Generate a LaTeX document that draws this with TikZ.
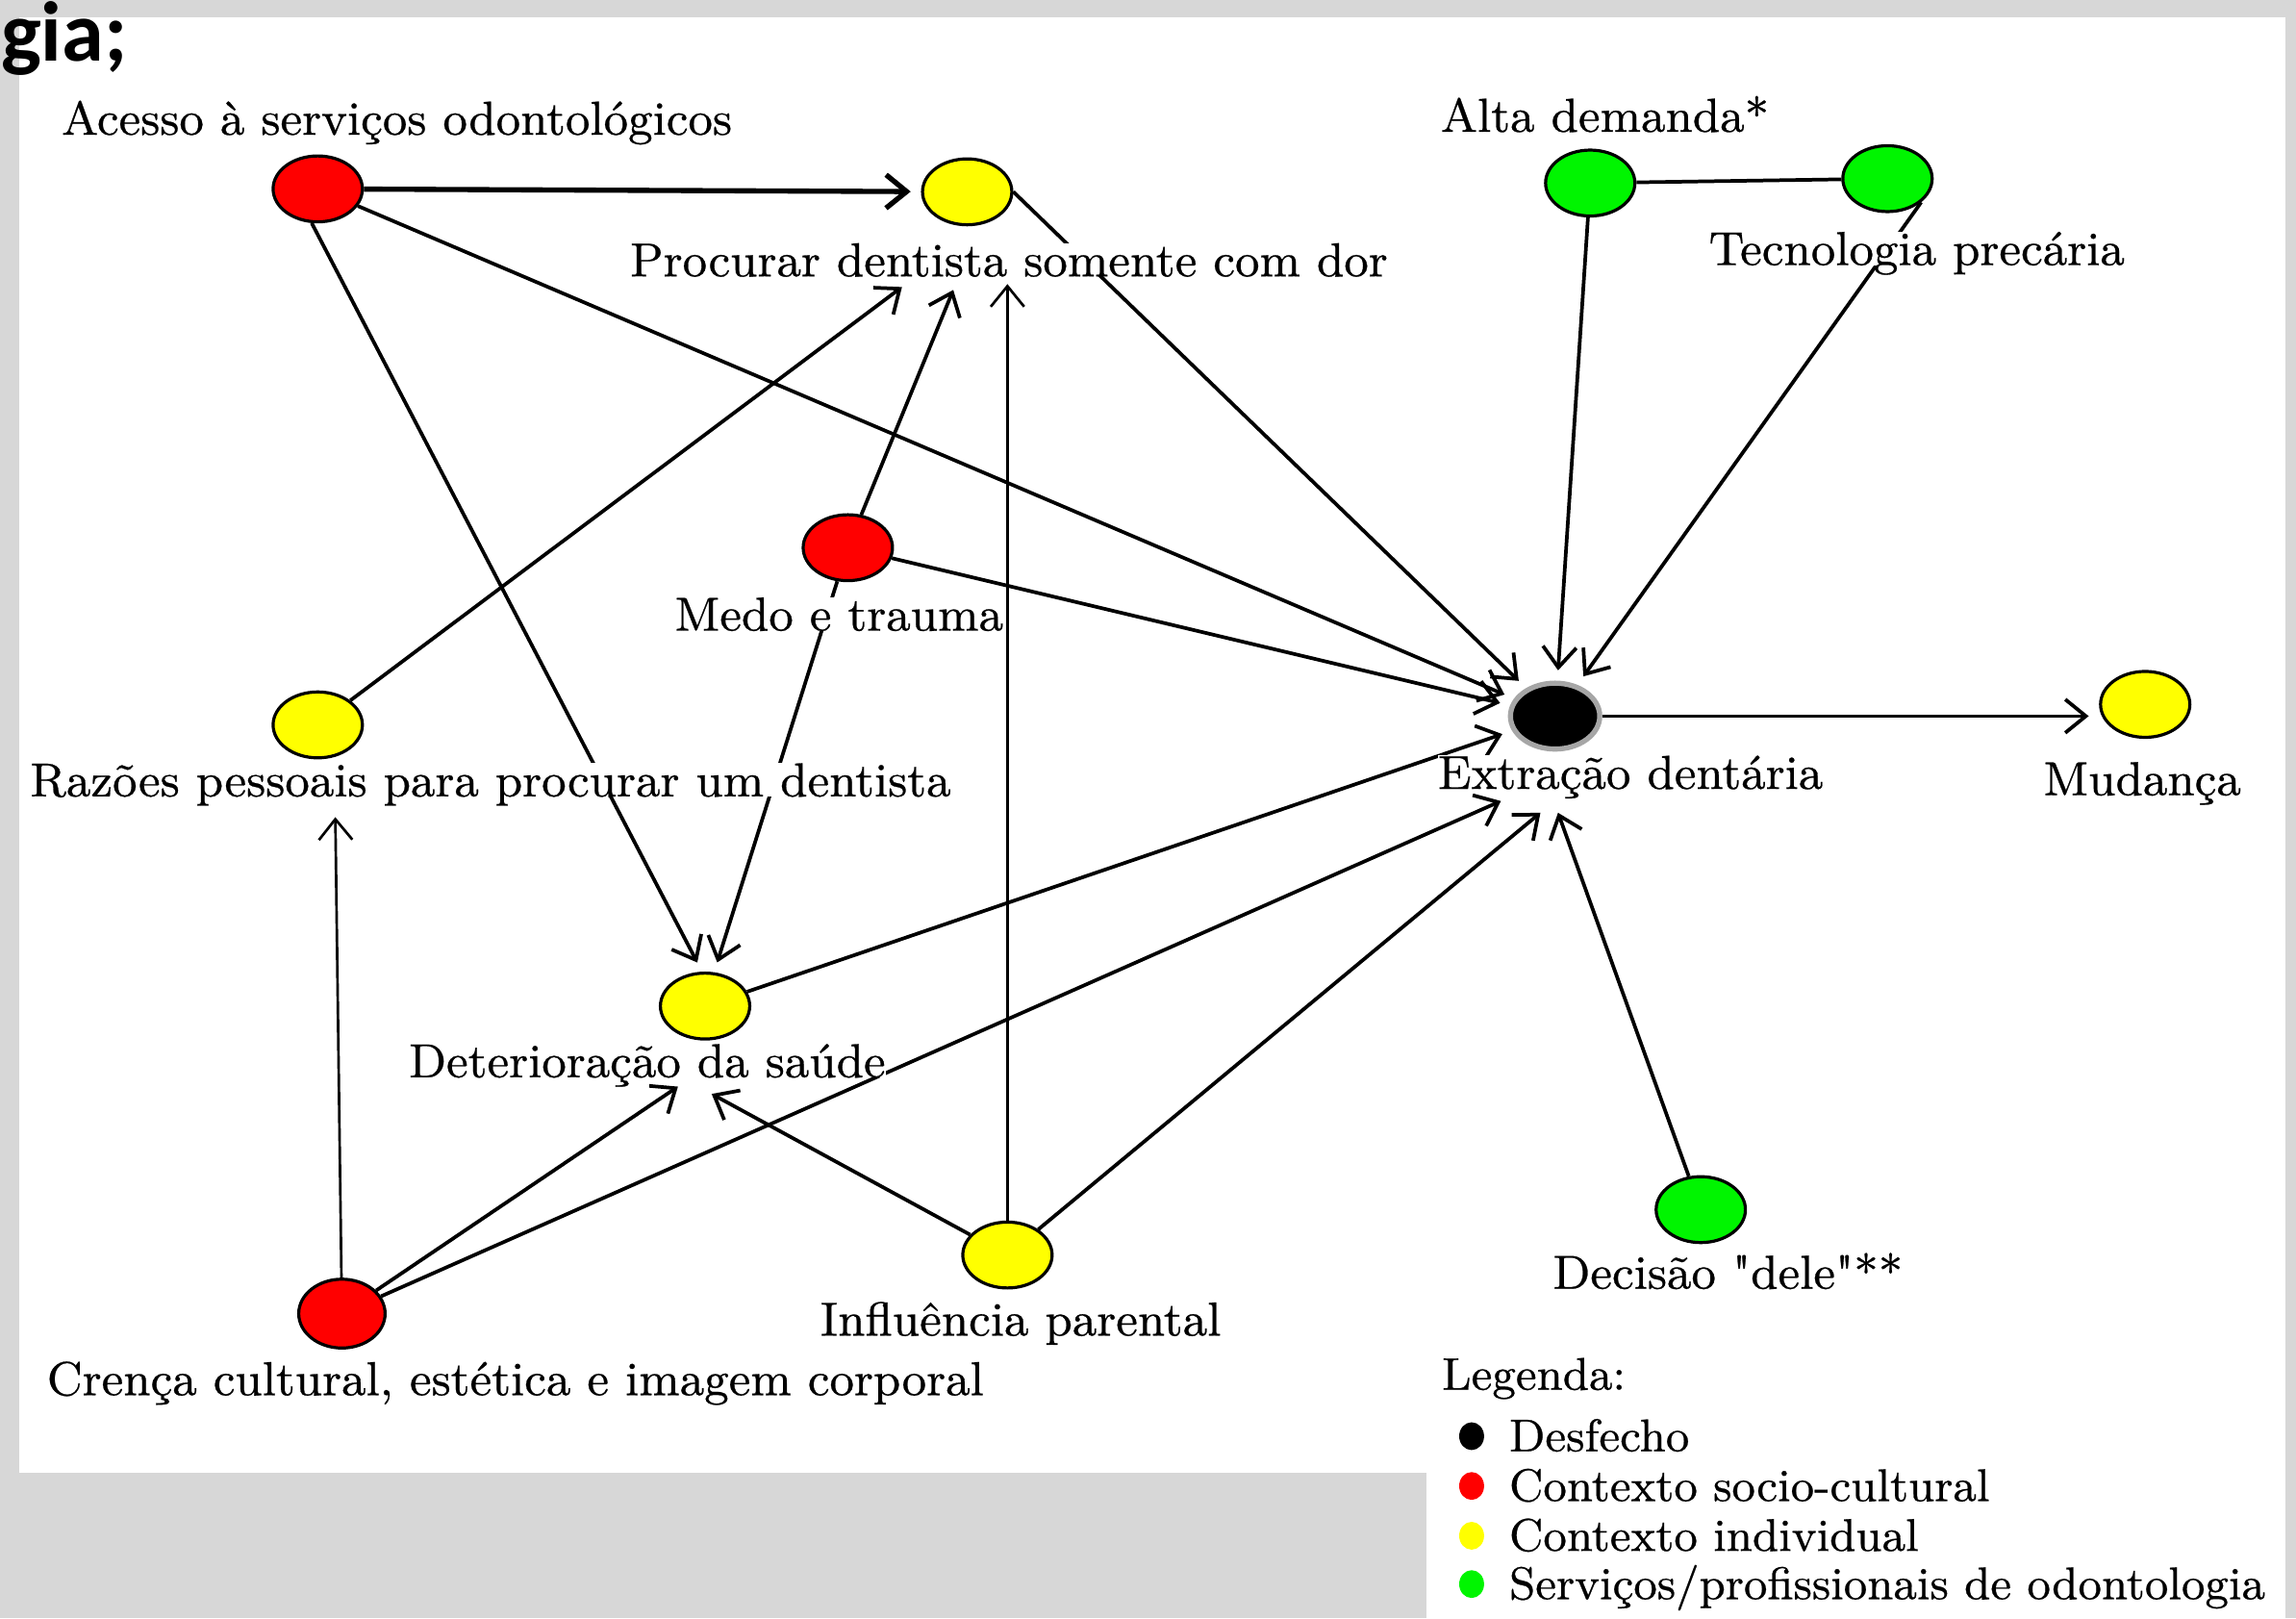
\documentclass[tikz,border=0pt]{standalone}
\usepackage{fontspec}
\newfontfamily\slidefont{Carlito}
\newfontfamily\labelfont{Latin Modern Roman}[FakeBold=0.5]
\usetikzlibrary{arrows.meta,shapes.geometric}
\definecolor{pagegray}{RGB}{215,215,215}
\definecolor{socred}{RGB}{255,0,0}
\definecolor{indyellow}{RGB}{255,255,0}
\definecolor{servgreen}{RGB}{0,245,0}

\begin{document}
\begin{tikzpicture}[
  factor/.style={ellipse, draw=black, line width=0.6pt, minimum width=0.61cm, minimum height=0.45cm, inner sep=0pt},
  lbl/.style={fill=white, inner sep=0pt, text depth=0pt, anchor=base, font=\fontsize{9.27}{11}\labelfont},
  key/.style={anchor=base west, inner sep=0pt, font=\fontsize{8.9}{11}\labelfont},
  arr/.style={-{Straight Barb[length=4pt,width=6.5pt]}, line width=0.7pt},
  gap/.style={shorten >=2pt}
]
  % Canvas: grey page and the two white panes
  \useasboundingbox (0,0) rectangle (15.68,11.05);
  \fill[pagegray] (0,0) rectangle (15.68,11.05);
  \fill[white] (0.13,0.99) rectangle (15.61,10.93);
  \fill[white] (9.74,0) rectangle (15.61,0.99);

  % Factors (ellipses)
  \node[factor, fill=socred] (acesso) at (2.17,9.76) {};
  \node[factor, fill=indyellow] (procurar) at (6.605,9.74) {};
  \node[factor, fill=servgreen] (alta) at (10.86,9.80) {};
  \node[factor, fill=servgreen] (tecno) at (12.89,9.83) {};
  \node[factor, fill=socred] (medo) at (5.79,7.31) {};
  \node[factor, fill=indyellow] (razoes) at (2.17,6.10) {};
  \node[factor, fill=black, draw=gray!70, line width=1pt] (extracao) at (10.62,6.16) {};
  \node[factor, fill=indyellow] (mudanca) at (14.65,6.24) {};
  \node[factor, fill=indyellow] (deterior) at (4.815,4.18) {};
  \node[factor, fill=servgreen] (decisao) at (11.615,2.79) {};
  \node[factor, fill=indyellow] (influencia) at (6.88,2.48) {};
  \node[factor, fill=socred, minimum width=0.59cm, minimum height=0.47cm] (crenca) at (2.335,2.08) {};

  % Arrow ends that stop just under a label
  \coordinate (procurar-in1) at (6.16,9.09);
  \coordinate (procurar-in2) at (6.51,9.07);
  \coordinate (procurar-in3) at (6.88,9.11);
  \coordinate (razoes-in) at (2.29,5.47);
  \coordinate (deterior-in1) at (4.63,3.63);
  \coordinate (deterior-in2) at (4.86,3.58);
  \coordinate (extracao-in1) at (10.25,5.58);
  \coordinate (extracao-in2) at (10.52,5.50);
  \coordinate (extracao-in3) at (10.64,5.50);

  % Connectors
  \draw[arr, gap, line width=1pt] (acesso) -- (procurar);
  \draw[arr, gap] (acesso) -- (extracao);
  \draw[arr, gap] (acesso.-100) -- (deterior.95);
  \draw[arr, gap] (procurar.east) -- (extracao);
  \draw[arr] (razoes) -- (procurar-in1);
  \draw[arr] (medo) -- (procurar-in2);
  \draw[arr, gap] (medo) -- (extracao);
  \draw[arr, gap] (medo) -- (deterior.75);
  \draw[arr, line width=0.5pt] (influencia) -- (procurar-in3);
  \draw[arr] (influencia) -- (extracao-in2);
  \draw[arr] (influencia) -- (deterior-in2);
  \draw[arr, line width=0.5pt] (crenca) -- (razoes-in);
  \draw[arr] (crenca) -- (deterior-in1);
  \draw[arr] (crenca) -- (extracao-in1);
  \draw[arr, gap] (deterior) -- (extracao);
  \draw[line width=0.7pt] (alta) -- (tecno);
  \draw[arr, gap] (alta) -- (extracao);
  \draw[arr, gap] (tecno.-35) -- (extracao);
  \draw[arr, gap] (extracao) -- (extracao -| mudanca.west);
  \draw[arr] (decisao) -- (extracao-in3);

  % Labels (white boxes hide the lines behind them)
  \node[lbl] (acesso-l) at (2.71,10.13) {Acesso à serviços odontológicos};
  \node[lbl] (procurar-l) at (6.89,9.163) {Procurar dentista somente com dor};
  \node[lbl] (alta-l) at (10.96,10.15) {Alta demanda*};
  \node[lbl] (tecno-l) at (13.09,9.24) {Tecnologia precária};
  \node[lbl] (medo-l) at (5.73,6.744) {Medo e trauma};
  \node[lbl] (razoes-l) at (3.35,5.612) {Razões pessoais para procurar um dentista};
  \node[lbl] (extracao-l) at (11.135,5.663) {Extração dentária};
  \node[lbl] (mudanca-l) at (14.63,5.62) {Mudança};
  \node[lbl] (deterior-l) at (4.42,3.694) {Deterioração da saúde};
  \node[lbl] (decisao-l) at (11.80,2.25) {Decisão \textquotedbl dele\textquotedbl**};
  \node[lbl] (influencia-l) at (6.97,1.93) {Influência parental};
  \node[lbl] (crenca-l) at (3.52,1.523) {Crença cultural, estética e imagem corporal};

  % Legend
  \node[key] (legenda) at (9.84,1.56) {Legenda:};
  \foreach \c/\y/\t [count=\i] in {black/1.14/{Desfecho}, socred/0.80/{Contexto socio-cultural}, indyellow/0.46/{Contexto individual}, servgreen/0.13/{Serviços/profissionais de odontologia}} {
    \fill[\c] (10.05,\y+0.103) ellipse [x radius=0.085, y radius=0.095];
    \node[key] (key-\i) at (10.30,\y) {\t};
  }

  % Cut-off slide title
  \node[anchor=base west, inner sep=0pt, font=\fontsize{16.5}{18}\slidefont\bfseries] (titulo) at (0,10.636) {gia;};
\end{tikzpicture}
\end{document}
